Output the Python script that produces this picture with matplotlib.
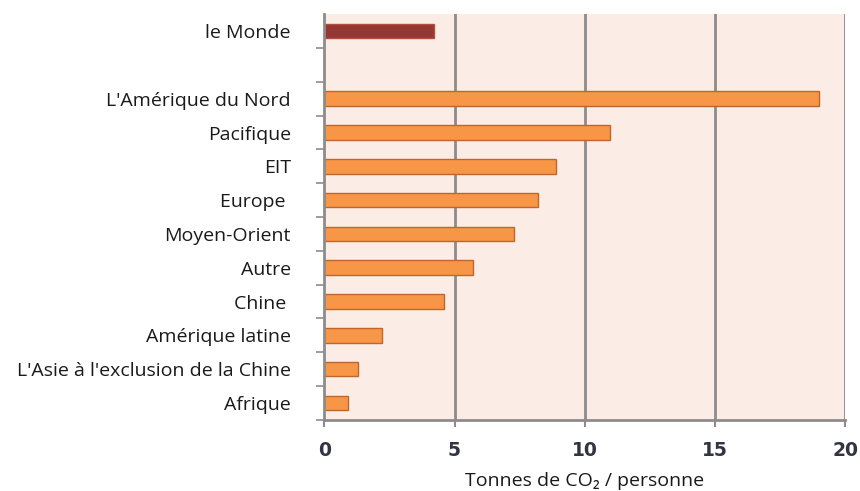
import matplotlib.pyplot as plt
import numpy as np

# donnees
regions = ["le Monde", "", "L'Amérique du Nord", "Pacifique", "EIT", "Europe ",
           "Moyen-Orient", "Autre", "Chine ", "Amérique latine",
           "L'Asie à l'exclusion de la Chine", "Afrique"]
valeurs = [4.2, 0, 19.0, 10.95, 8.9, 8.2, 7.3, 5.7, 4.6, 2.2, 1.3, 0.9]
xticks = [0, 5, 10, 15, 20]

orange = '#F79646'
rouge = '#953735'
gris = '#8C8C8C'

fig = plt.figure(figsize=(8.6, 4.91), dpi=100)
ax = fig.add_axes([0.377, 0.145, 0.606, 0.826])
ax.set_facecolor('#FBECE6')

n = len(regions)
pos = np.arange(n)[::-1]
for i in range(n):
    if regions[i] == "":
        continue
    if i == 0:
        ax.barh(pos[i], valeurs[i], height=0.43, color=rouge, edgecolor='#B0503A', linewidth=1)
    else:
        ax.barh(pos[i], valeurs[i], height=0.43, color=orange, edgecolor='#C0662A', linewidth=1)

ax.set_ylim(-0.5, n - 0.5)
ax.set_xlim(0, 20)

# grille verticale
for x in xticks[1:]:
    ax.axvline(x, color=gris, linewidth=2, zorder=0)
ax.set_axisbelow(True)

# axe y : etiquettes sans traits, traits entre les categories
ax.set_yticks(pos)
ax.set_yticklabels(regions, family=['Open Sans', 'DejaVu Sans'], fontsize=14, color='#1a1a1a')
ax.tick_params(axis='y', which='major', length=0, pad=24)
ax.set_yticks(np.arange(-0.5, n - 0.5, 1), minor=True)
ax.tick_params(axis='y', which='minor', length=6, width=1.2, color=gris)

ax.set_xticks(xticks)
ax.set_xticklabels([str(v) for v in xticks], family='DejaVu Sans', fontsize=13.5,
                   fontweight='semibold', color='#333344')
ax.tick_params(axis='x', length=5, width=1.5, color=gris, pad=10)

for s in ['top', 'right']:
    ax.spines[s].set_visible(False)
ax.spines['left'].set_color(gris)
ax.spines['left'].set_linewidth(2)
ax.spines['bottom'].set_color(gris)
ax.spines['bottom'].set_linewidth(2)

ax.set_xlabel('Tonnes de CO₂ / personne', family=['Open Sans', 'DejaVu Sans'],
              fontsize=14, color='#1a1a1a', labelpad=9)

fig.savefig('out.png', dpi=100)
